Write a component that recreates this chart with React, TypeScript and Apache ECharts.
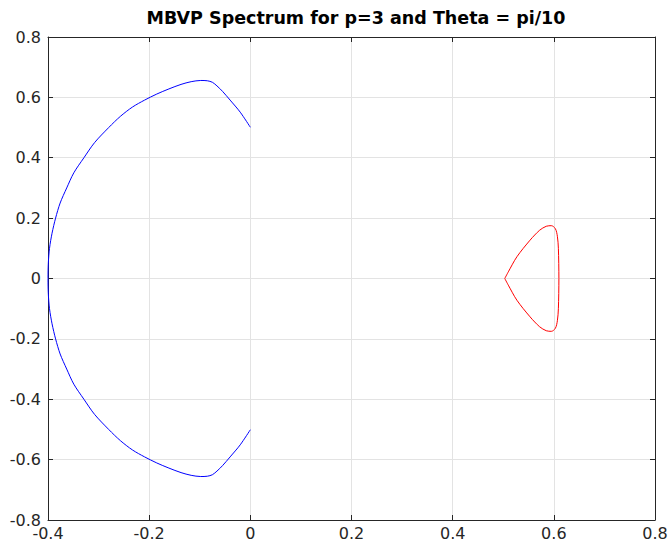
import React, { useEffect, useRef } from "react";
import * as echarts from "echarts";

const titleText = "MBVP Spectrum for p=3 and Theta = pi/10";
const xTicks = [-0.4, -0.2, 0, 0.2, 0.4, 0.6, 0.8];
const yTicks = [-0.8, -0.6, -0.4, -0.2, 0, 0.2, 0.4, 0.6, 0.8];

// blue: from (0, 0.5) over the top, round the tip at (-0.4, 0), and back to (0, -0.5)
const blueX = [
  0, -0.02, -0.04, -0.055, -0.066, -0.075, -0.085, -0.098, -0.117, -0.137, -0.161, -0.185, -0.209,
  -0.233, -0.257, -0.28, -0.308, -0.329, -0.349, -0.363, -0.376, -0.385, -0.392, -0.397, -0.3994, -0.4,
  -0.3994, -0.397, -0.392, -0.385, -0.376, -0.363, -0.349, -0.329, -0.308, -0.28, -0.257, -0.233,
  -0.209, -0.185, -0.161, -0.137, -0.117, -0.098, -0.085, -0.075, -0.066, -0.055, -0.04, -0.02, 0,
];
const blueY = [
  0.501, 0.551, 0.591, 0.62, 0.638, 0.65, 0.655, 0.656, 0.652, 0.643, 0.628, 0.611, 0.591,
  0.568, 0.537, 0.5, 0.45, 0.4, 0.35, 0.3, 0.25, 0.2, 0.15, 0.1, 0.05, 0,
  -0.05, -0.1, -0.15, -0.2, -0.25, -0.3, -0.35, -0.4, -0.45, -0.5, -0.537, -0.568,
  -0.591, -0.611, -0.628, -0.643, -0.652, -0.656, -0.655, -0.65, -0.638, -0.62, -0.591, -0.551, -0.501,
];

const redX = [
  0.503, 0.51, 0.527, 0.553, 0.572, 0.585, 0.595, 0.603, 0.607, 0.609, 0.61,
  0.609, 0.607, 0.603, 0.595, 0.585, 0.572, 0.553, 0.527, 0.51, 0.503,
];
const redY = [
  0, 0.022, 0.072, 0.127, 0.16, 0.173, 0.175, 0.165, 0.14, 0.1, 0,
  -0.1, -0.14, -0.165, -0.175, -0.173, -0.16, -0.127, -0.072, -0.022, 0,
];

const axisColor = "#262626";
const gridColor = "#e3e3e3";
const font = "DejaVu Sans, Liberation Sans, Arial, sans-serif";

export default function App() {
  const ref = useRef<HTMLDivElement>(null);
  useEffect(() => {
    if (!ref.current) return;
    const chart = echarts.init(ref.current, null, { renderer: "svg" });
    const axisBase = {
      type: "value" as const,
      axisLine: { show: true, onZero: false, lineStyle: { color: axisColor, width: 1 } },
      axisTick: { show: true, inside: true, length: 5, lineStyle: { color: axisColor } },
    };
    const fmt = (ticks: number[]) => (v: number) => {
      const t = ticks.find((a) => Math.abs(a - v) < 1e-9);
      return t === undefined ? "" : String(t);
    };
    chart.setOption({
      animation: false,
      backgroundColor: "#ffffff",
      title: {
        text: titleText,
        left: 351,
        textAlign: "center",
        top: 4,
        textStyle: { fontFamily: font, fontSize: 17.5, fontWeight: "bold", color: "#000" },
      },
      grid: { left: 48, right: 16, top: 37, bottom: 24, containLabel: false },
      xAxis: [
        {
          ...axisBase,
          position: "bottom",
          min: -0.4,
          max: 0.8,
          interval: 0.2,
          axisLabel: { color: axisColor, fontFamily: font, fontSize: 16, margin: 5, formatter: fmt(xTicks) },
          splitLine: { show: true, lineStyle: { color: gridColor, width: 1 } },
        },
        {
          ...axisBase,
          position: "top",
          min: -0.4,
          max: 0.8,
          interval: 0.2,
          axisLabel: { show: false },
          splitLine: { show: false },
        },
      ],
      yAxis: [
        {
          ...axisBase,
          position: "left",
          min: -0.8,
          max: 0.8,
          interval: 0.2,
          axisLabel: { color: axisColor, fontFamily: font, fontSize: 16, margin: 7, formatter: fmt(yTicks) },
          splitLine: { show: true, lineStyle: { color: gridColor, width: 1 } },
        },
        {
          ...axisBase,
          position: "right",
          min: -0.8,
          max: 0.8,
          interval: 0.2,
          axisLabel: { show: false },
          splitLine: { show: false },
        },
      ],
      series: [
        {
          type: "line",
          data: blueX.map((x, i) => [x, blueY[i]]),
          showSymbol: false,
          smooth: 0.3,
          lineStyle: { color: "#0000ff", width: 1 },
          xAxisIndex: 0,
          yAxisIndex: 0,
        },
        {
          type: "line",
          data: redX.map((x, i) => [x, redY[i]]),
          showSymbol: false,
          smooth: 0.3,
          lineStyle: { color: "#ff0000", width: 1 },
          xAxisIndex: 0,
          yAxisIndex: 0,
        },
      ],
    });
    return () => chart.dispose();
  }, []);
  return (
    <div
      ref={ref}
      style={{ position: "fixed", left: 0, top: 0, width: 671, height: 544, background: "#fff" }}
    />
  );
}
